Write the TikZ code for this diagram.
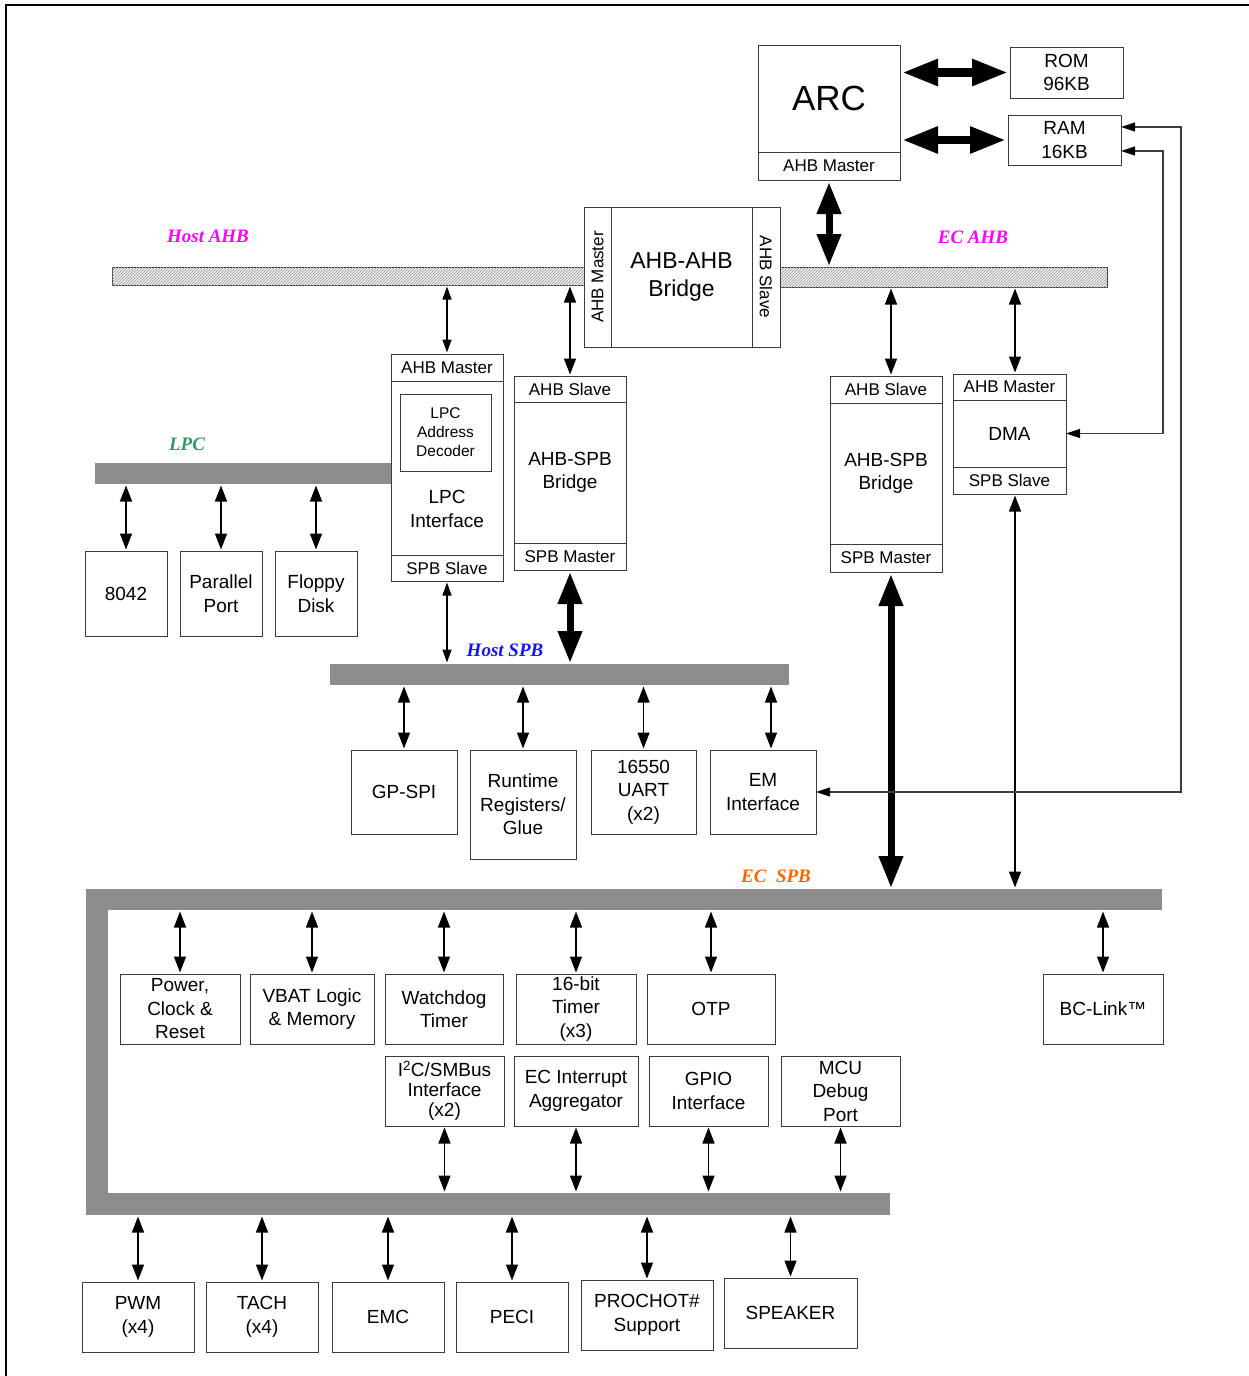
\documentclass[tikz,border=0pt]{standalone}
\usepackage{fontspec}
\setmainfont{Liberation Sans}
\newfontfamily\busfont{Liberation Serif}
\usetikzlibrary{arrows.meta,patterns}
\definecolor{boxcol}{RGB}{60,60,60}
\definecolor{busgray}{RGB}{140,140,140}
\definecolor{magcol}{RGB}{255,0,255}
\definecolor{lpccol}{RGB}{51,153,102}
\definecolor{hspbcol}{RGB}{20,20,255}
\definecolor{ecspbcol}{RGB}{255,102,0}
\newcommand\mkbox[7]{\node[#2, minimum width={#5-#3}, minimum height={#6-#4}] (#1) at ({(#3+#5)/2},{(#4+#6)/2}) {#7};}
\tikzset{
  box/.style={draw=boxcol, line width=1pt, fill=white, inner sep=0pt, outer sep=0pt, align=center, font=\fontsize{19}{23.5}\selectfont},
  sm/.style={font=\fontsize{17}{20}\selectfont},
  txt/.style={inner sep=0pt, align=center, font=\fontsize{19}{23.5}\selectfont},
  bus/.style={fill=busgray, draw=none, inner sep=0pt, outer sep=0pt},
  hbus/.style={draw=boxcol, line width=0.8pt, fill=gray!10, postaction={pattern=north east lines, pattern color=gray!85}, inner sep=0pt, outer sep=0pt},
  lbl/.style={inner sep=0pt, font={\busfont\bfseries\itshape\fontsize{19}{22}\selectfont}},
  arr/.style={{Triangle[length=16pt,width=12pt]}-{Triangle[length=16pt,width=12pt]}, line width=1.4pt, shorten <=1.5pt, shorten >=1.5pt},
  sarr/.style={{Triangle[length=13pt,width=9pt]}-{Triangle[length=13pt,width=9pt]}, line width=1.4pt, shorten <=1.5pt, shorten >=1.5pt},
  rarr/.style={{Triangle[length=14pt,width=9pt,fill=black,color=black]}-{Triangle[length=14pt,width=9pt,fill=black,color=black]}, line width=1.1pt, draw=boxcol},
  tarr/.style={{Triangle[length=36pt,width=25pt]}-{Triangle[length=36pt,width=25pt]}, line width=8.5pt, shorten <=2pt, shorten >=2pt},
  varr/.style={{Triangle[length=32pt,width=23pt]}-{Triangle[length=32pt,width=23pt]}, line width=7pt, shorten <=2pt, shorten >=1pt},
}
\begin{document}
\begin{tikzpicture}[x=1pt,y=-1pt]
\useasboundingbox (0,0) rectangle (1249,1376);
\fill[white] (0,0) rectangle (1249,1376);
\draw[line width=2.5pt] (6,1376) -- (6,5) -- (1249,5);

% buses
\mkbox{hostahb}{hbus}{112}{267}{584}{285}{}
\mkbox{ecahb}{hbus}{780}{267}{1107}{287}{}
\mkbox{lpcbus}{bus}{95}{463}{391}{484}{}
\mkbox{hostspb}{bus}{330}{664}{789}{685}{}
\mkbox{ecspb}{bus}{86}{889}{1162}{910}{}
\mkbox{ecspbl}{bus}{86}{889}{108}{1215}{}
\mkbox{ecspbb}{bus}{86}{1193}{890}{1215}{}

% bus labels
\node[lbl, text=magcol] (lhahb) at (208,236) {Host AHB};
\node[lbl, text=magcol] (leahb) at (973,237) {EC AHB};
\node[lbl, text=lpccol] (llpc) at (187,444) {LPC};
\node[lbl, text=hspbcol] (lhspb) at (505,650) {Host SPB};
\node[lbl, text=ecspbcol] (lespb) at (776,876) {EC\ \ SPB};

% ARC, ROM, RAM
\mkbox{arc}{box,font=\fontsize{35}{40}\selectfont}{758}{45}{900}{152}{ARC}
\mkbox{arcm}{box,sm}{758}{152}{900}{180}{AHB Master}
\mkbox{rom}{box}{1010}{47}{1123}{98}{ROM\\96KB}
\mkbox{ram}{box}{1008}{115}{1121}{165}{RAM\\16KB}

% AHB-AHB bridge
\node[box, sm, rotate=90, minimum width=140, minimum height=27] (brm) at (597.5,277) {AHB Master};
\node[box, sm, rotate=-90, minimum width=140, minimum height=28] (brs) at (766,277) {AHB Slave};
\mkbox{bridge}{box,font=\fontsize{23}{28}\selectfont}{611}{207}{752}{347}{AHB-AHB\\Bridge}

% LPC interface
\mkbox{lpcm}{box,sm}{391}{354}{503}{381}{AHB Master}
\mkbox{lpc}{box}{391}{381}{503}{555}{}
\mkbox{lpcs}{box,sm}{391}{555}{503}{581}{SPB Slave}
\mkbox{lpcdec}{box,font=\fontsize{15.5}{19}\selectfont}{400}{394}{491}{471}{LPC\\Address\\Decoder}
\node[txt] (lpct) at (447,509) {LPC\\Interface};

% Host AHB-SPB bridge
\mkbox{hbs}{box,sm}{514}{376}{626}{402}{AHB Slave}
\mkbox{hbb}{box}{514}{402}{626}{543}{AHB-SPB\\Bridge}
\mkbox{hbm}{box,sm}{514}{543}{626}{570}{SPB Master}

% EC AHB-SPB bridge
\mkbox{ebs}{box,sm}{830}{376}{942}{403}{AHB Slave}
\mkbox{ebb}{box}{830}{403}{942}{544}{AHB-SPB\\Bridge}
\mkbox{ebm}{box,sm}{830}{544}{942}{572}{SPB Master}

% DMA
\mkbox{dmam}{box,sm}{953}{374}{1066}{400}{AHB Master}
\mkbox{dma}{box}{953}{400}{1066}{467}{DMA}
\mkbox{dmas}{box,sm}{953}{467}{1066}{494}{SPB Slave}

% LPC devices
\mkbox{k8042}{box}{85}{551}{167}{636}{8042}
\mkbox{ppt}{box}{180}{551}{262}{636}{Parallel\\Port}
\mkbox{fdd}{box}{275}{551}{357}{636}{Floppy\\Disk}

% Host SPB devices
\mkbox{gpspi}{box}{351}{750}{457}{834}{GP-SPI}
\mkbox{rtr}{box}{470}{750}{576}{859}{Runtime\\Registers/\\Glue}
\mkbox{uart}{box}{591}{750}{696}{834}{16550\\UART\\(x2)}
\mkbox{em}{box}{710}{750}{816}{834}{EM\\Interface}

% EC SPB row 1
\mkbox{pwr}{box}{120}{974}{240}{1044}{Power,\\Clock \&\\Reset}
\mkbox{vbat}{box}{250}{974}{374}{1044}{VBAT Logic\\\& Memory}
\mkbox{wdt}{box}{385}{974}{503}{1044}{Watchdog\\Timer}
\mkbox{tmr}{box}{516}{974}{636}{1044}{16-bit\\Timer\\(x3)}
\mkbox{otp}{box}{647}{974}{775}{1044}{OTP}
\mkbox{bcl}{box}{1043}{974}{1163}{1044}{BC-Link™}

% EC SPB row 2
\mkbox{i2c}{box,font=\fontsize{19}{20}\selectfont}{385}{1056}{504}{1126}{I\textsuperscript{2}C/SMBus\\Interface\\(x2)}
\mkbox{eci}{box}{514}{1056}{638}{1126}{EC Interrupt\\Aggregator}
\mkbox{gpio}{box}{649}{1056}{768}{1126}{GPIO\\Interface}
\mkbox{mcu}{box}{781}{1056}{900}{1126}{MCU\\Debug\\Port}

% EC SPB row 3
\mkbox{pwm}{box}{82}{1282}{194}{1352}{PWM\\(x4)}
\mkbox{tach}{box}{206}{1282}{318}{1352}{TACH\\(x4)}
\mkbox{emc}{box}{332}{1282}{444}{1352}{EMC}
\mkbox{peci}{box}{456}{1282}{568}{1352}{PECI}
\mkbox{prochot}{box}{581}{1280}{713}{1350}{PROCHOT\#\\Support}
\mkbox{spk}{box}{724}{1278}{857}{1348}{SPEAKER}

% thick connectors
\draw[tarr] (rom.west -| arc.east) -- (rom.west);
\draw[tarr] (ram.west -| arc.east) -- (ram.west);
\draw[varr] (arcm.south) -- (arcm.south |- ecahb.north);
\draw[varr] (hbm.south) -- (hbm.south |- hostspb.north);
\coordinate (ebx) at ([xshift=5pt]ebm.south);
\draw[varr] (ebx) -- (ebx |- ecspb.north);

% thin connectors
\draw[sarr] (lpcm.north) -- (lpcm.north |- hostahb.south);
\draw[arr] (hbs.north) -- (hbs.north |- hostahb.south);
\draw[sarr] (lpcs.south) -- (lpcs.south |- hostspb.north);
\coordinate (ebsx) at ([xshift=5pt]ebs.north);
\draw[arr] (ebsx) -- (ebsx |- ecahb.south);
\coordinate (dmx) at ([xshift=5.5pt]dmam.north);
\draw[arr] (dmx) -- (dmx |- ecahb.south);
\coordinate (dsx) at ([xshift=5.5pt]dmas.south);
\draw[arr] (dsx) -- (dsx |- ecspb.north);

\foreach \n in {k8042,ppt,fdd} \draw[arr] (\n.north) -- (\n.north |- lpcbus.south);
\foreach \n in {gpspi,rtr,uart} \draw[arr] (\n.north) -- (\n.north |- hostspb.south);
\coordinate (emx) at ([xshift=8pt]em.north);
\draw[arr] (emx) -- (emx |- hostspb.south);
\foreach \n in {pwr,vbat,wdt,tmr,otp,bcl} \draw[arr] (\n.north) -- (\n.north |- ecspb.south);
\foreach \n in {i2c,eci,gpio,mcu} \draw[arr] (\n.south) -- (\n.south |- ecspbb.north);
\foreach \n in {pwm,tach,emc,peci,prochot,spk} \draw[arr] (\n.north) -- (\n.north |- ecspbb.south);

% RAM side connectors
\coordinate (ramA) at ([yshift=13pt]ram.east);
\coordinate (ramB) at ([yshift=-11pt]ram.east);
\draw[rarr] (em.east) -| (1181,127) -- (ramA);
\draw[rarr] (dma.east) -| (1163,151) -- (ramB);
\end{tikzpicture}
\end{document}
